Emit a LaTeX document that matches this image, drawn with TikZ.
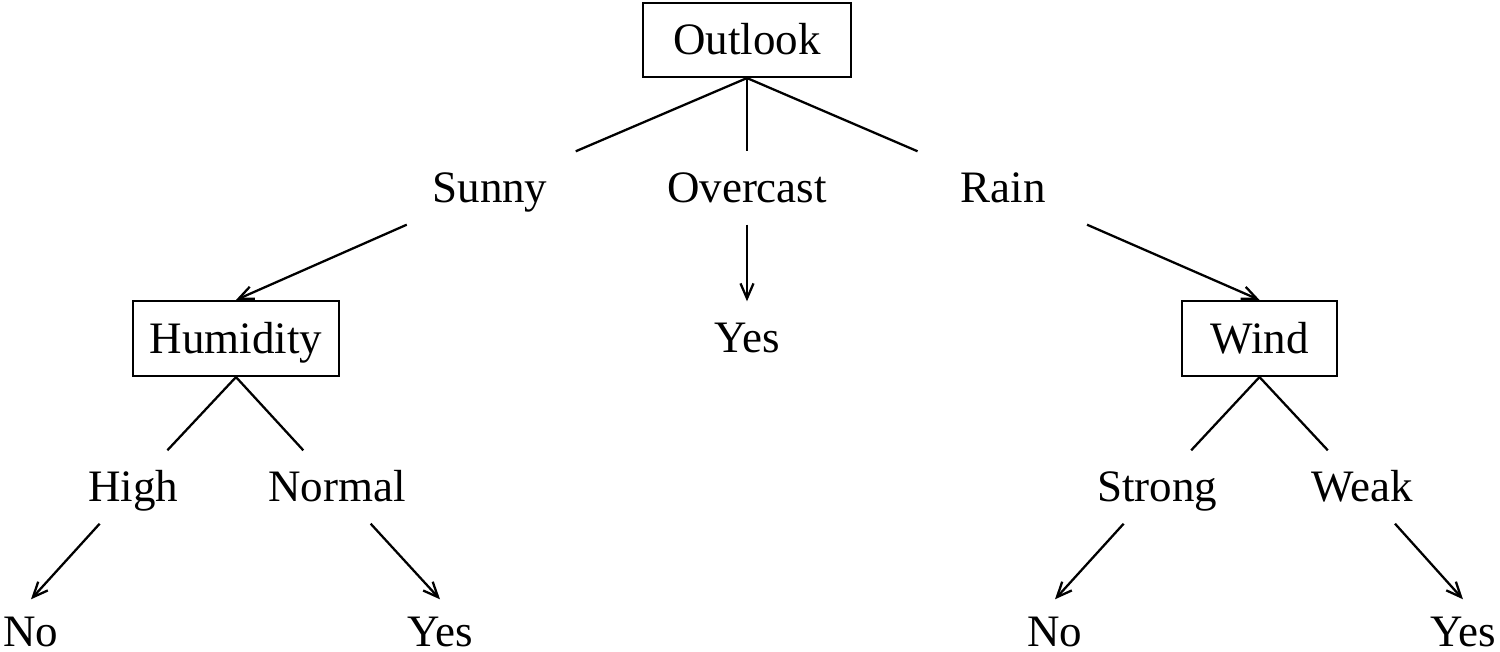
\documentclass[tikz,border=0pt]{standalone}
\usepackage{fontspec}
\setmainfont{Liberation Serif}
\usetikzlibrary{arrows.meta}

\tikzset{
    attr/.style={draw, line width=0.6pt, inner sep=0pt, minimum height=0.75cm, text height=11.5pt, text depth=3pt},
    lbl/.style={inner sep=0pt, minimum width=1.8cm, minimum height=0.72cm, text height=11.5pt, text depth=3pt},
    leaf/.style={lbl, minimum width=0pt, minimum height=0.64cm, text height=8.5pt, text depth=0pt},
    branch/.style={line width=0.65pt},
    follow/.style={branch, -{Straight Barb[length=1.5mm, width=1.3mm]}}
}

\begin{document}
\begin{tikzpicture}[font=\fontsize{12.8}{15.4}\selectfont]
        \useasboundingbox (0,0) rectangle (15,6.52);
        \node [attr, minimum width=2.08cm, minimum height=0.74cm] (outlook) at (7.47, 6.12) {Outlook};
        \node [attr, minimum width=2.06cm] (humidity) at (2.36, 3.135) {Humidity};
        \node [attr, minimum width=1.55cm] (wind) at (12.595, 3.135) {Wind};
        \node [lbl] (sunny) at (4.90, 4.64) {Sunny};
        \node [lbl] (overcast) at (7.47, 4.64) {Overcast};
        \node [lbl] (rain) at (10.03, 4.64) {Rain};
        \node [lbl] (yesA) at (7.47, 3.14) {Yes};
        \node [lbl] (high) at (1.33, 1.65) {High};
        \node [lbl] (normal) at (3.37, 1.65) {Normal};
        \node [lbl] (strong) at (11.57, 1.65) {Strong};
        \node [lbl] (weak) at (13.62, 1.65) {Weak};
        \node [leaf] (noA) at (0.31, 0.20) {No};
        \node [leaf] (yesB) at (4.40, 0.20) {Yes};
        \node [leaf] (noB) at (10.55, 0.20) {No};
        \node [leaf] (yesC) at (14.63, 0.20) {Yes};
        \draw [branch] (outlook.south) -- (sunny);
        \draw [branch] (outlook.south) -- (overcast);
        \draw [branch] (outlook.south) -- (rain);
        \draw [follow] (sunny) -- (humidity.north);
        \draw [follow] (overcast) -- (yesA.north);
        \draw [follow] (rain) -- (wind.north);
        \draw [branch] (humidity.south) -- (high);
        \draw [branch] (humidity.south) -- (normal);
        \draw [branch] (wind.south) -- (strong);
        \draw [branch] (wind.south) -- (weak);
        \draw [follow] (high) -- (noA.north);
        \draw [follow] (normal) -- (yesB.north);
        \draw [follow] (strong) -- (noB.north);
        \draw [follow] (weak) -- (yesC.north);
    \end{tikzpicture}
\end{document}
